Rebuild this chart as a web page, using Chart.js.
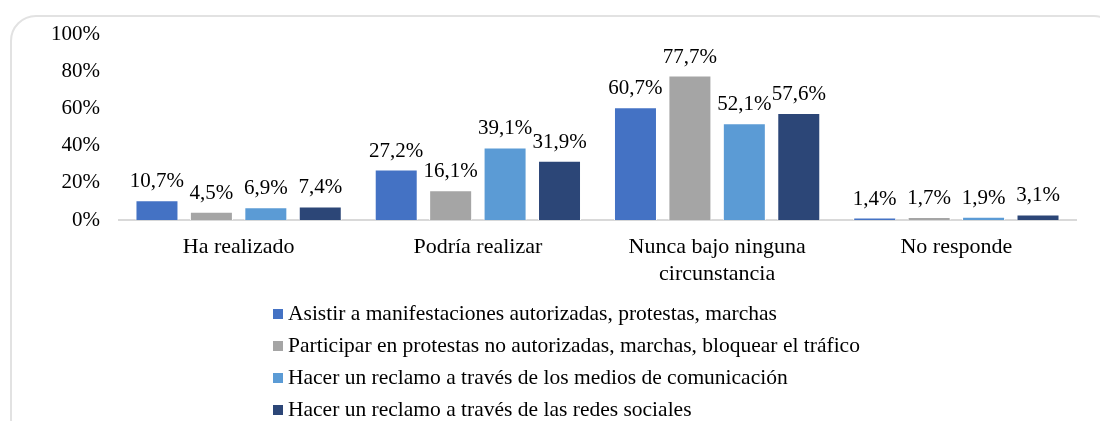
<!DOCTYPE html>
<html>
<head>
<meta charset="utf-8">
<script src="https://cdn.jsdelivr.net/npm/chart.js@4"></script>
<style>
  body { margin: 0; background: #fff; font-family: "Liberation Serif", "Times New Roman", serif; }
  #wrap { position: relative; width: 1100px; height: 421px; overflow: hidden; }
  #frame { position: absolute; left: 10px; top: 15px; width: 1110px; height: 430px;
           border: 2px solid #e2e2e2; border-radius: 26px; box-sizing: border-box; }
  #chart { position: absolute; left: 0; top: 0; }
  #legend { position: absolute; left: 273px; top: 297px; font-size: 21.5px; color: #000; }
  #legend div { height: 32px; line-height: 32px; white-space: nowrap; }
  #legend span.box { display: inline-block; width: 10px; height: 10px; margin-right: 5px; vertical-align: 1px; }
</style>
</head>
<body>
<div id="wrap">
  <div id="frame"></div>
  <canvas id="chart" width="1100" height="303"></canvas>
  <div id="legend"></div>
</div>
<script>
// categorías del eje x
const categorias = ['Ha realizado', 'Podría realizar', ['Nunca bajo ninguna', 'circunstancia'], 'No responde'];

// series (porcentajes)
const asistir = [10.7, 27.2, 60.7, 1.4];
const participar = [4.5, 16.1, 77.7, 1.7];
const medios = [6.9, 39.1, 52.1, 1.9];
const redes = [7.4, 31.9, 57.6, 3.1];

const nombres = [
    'Asistir a manifestaciones autorizadas, protestas, marchas',
    'Participar en protestas no autorizadas, marchas, bloquear el tráfico',
    'Hacer un reclamo a través de los medios de comunicación',
    'Hacer un reclamo a través de las redes sociales'
];
const colores = ['#4472C4', '#A5A5A5', '#5B9BD5', '#2C4677'];

const fuente = '"Liberation Serif", "Times New Roman", serif';

// etiquetas de valor encima de cada barra
const etiquetasBarras = {
    id: 'etiquetasBarras',
    afterDatasetsDraw(chart) {
        const ctx = chart.ctx;
        ctx.save();
        ctx.font = '21px ' + fuente;
        ctx.fillStyle = '#000';
        ctx.textAlign = 'center';
        ctx.textBaseline = 'alphabetic';
        chart.data.datasets.forEach((ds, i) => {
            const meta = chart.getDatasetMeta(i);
            meta.data.forEach((bar, j) => {
                const txt = ds.data[j].toFixed(1).replace('.', ',') + '%';
                ctx.fillText(txt, bar.x, bar.y - 13);
            });
        });
        ctx.restore();
    }
};

const datos = [asistir, participar, medios, redes];

const myChart = new Chart(document.getElementById('chart').getContext('2d'), {
    type: 'bar',
    data: {
        labels: categorias,
        datasets: datos.map((d, i) => ({
            label: nombres[i],
            data: d,
            backgroundColor: colores[i],
            borderColor: '#ffffff',
            borderWidth: 1,
            categoryPercentage: 0.91,
            barPercentage: 0.79
        }))
    },
    options: {
        responsive: false,
        animation: false,
        layout: { padding: { left: 40, right: 24, top: 34, bottom: 10 } },
        plugins: {
            legend: { display: false },
            tooltip: { enabled: false }
        },
        scales: {
            x: {
                grid: { display: false },
                border: { display: true, color: '#d9d9d9', width: 2 },
                ticks: { color: '#000', font: { family: fuente, size: 22 }, padding: 6, maxRotation: 0 }
            },
            y: {
                min: 0,
                max: 100,
                grid: { display: false },
                border: { display: false },
                ticks: {
                    stepSize: 20,
                    color: '#000',
                    padding: 11,
                    font: { family: fuente, size: 21 },
                    callback: v => v + '%'
                }
            }
        }
    },
    plugins: [etiquetasBarras]
});

// leyenda en lista vertical
const leyenda = document.getElementById('legend');
myChart.data.datasets.forEach(ds => {
    const fila = document.createElement('div');
    fila.innerHTML = '<span class="box" style="background:' + ds.backgroundColor + '"></span>' + ds.label;
    leyenda.appendChild(fila);
});
</script>
</body>
</html>
